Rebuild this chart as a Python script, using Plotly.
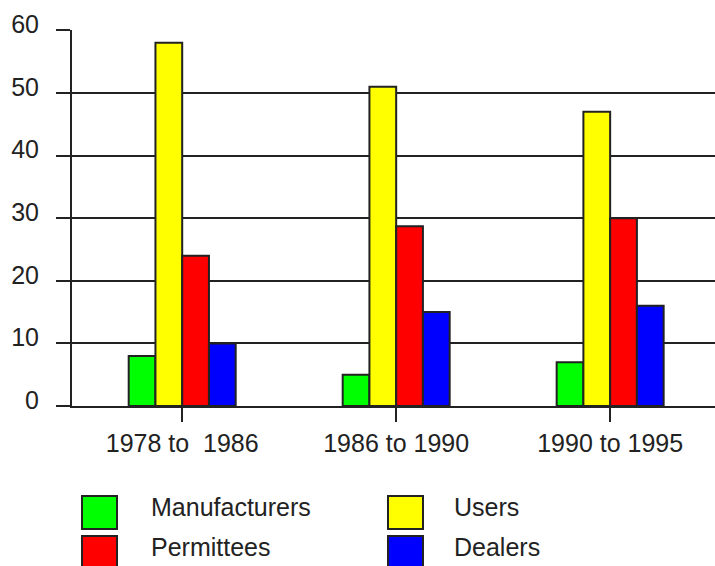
import plotly.graph_objects as go

# Periods on the category axis
periods = ["1978 to  1986", "1986 to 1990", "1990 to 1995"]

# Series names, values per period and fill colours
series_names = ["Manufacturers", "Users", "Permittees", "Dealers"]
manufacturers = [8, 5, 7]
users = [58, 51, 47]
permittees = [24, 28.7, 30]
dealers = [10, 15, 16]
series_colors = ["#00ff00", "#ffff00", "#ff0000", "#0000ff"]

y_ticks = [0, 10, 20, 30, 40, 50, 60]

W, H = 715, 566
M_L, M_R, M_T, M_B = 72, 0, 30, 160
PW, PH = W - M_L - M_R, H - M_T - M_B

FONT = "Liberation Sans, Arial, sans-serif"
INK = "#222222"
FS = 25

fig = go.Figure()
for name, vals, col in zip(series_names, [manufacturers, users, permittees, dealers], series_colors):
    fig.add_trace(go.Bar(
        x=periods, y=vals, name=name,
        marker=dict(color=col, line=dict(color=INK, width=2)),
        showlegend=False,
    ))


def px_x(p):
    return (p - M_L) / PW


def px_y(p):
    return (H - M_B - p) / PH


# Hand-built legend: large swatches in two columns
legend_slots = [
    ("Manufacturers", 0, 0), ("Users", 1, 0),
    ("Permittees", 0, 1), ("Dealers", 1, 1),
]
col_x = [82, 388]
text_x = [149, 452]
row_y = [496, 536]
for (name, c, r) in legend_slots:
    col = series_colors[series_names.index(name)]
    x0, y0 = col_x[c], row_y[r]
    fig.add_shape(type="rect", xref="paper", yref="paper",
                  x0=px_x(x0), x1=px_x(x0 + 35), y0=px_y(y0), y1=px_y(y0 + 33),
                  fillcolor=col, line=dict(color=INK, width=2))
    fig.add_annotation(xref="paper", yref="paper", x=px_x(text_x[c]), y=px_y(y0 + 11),
                       text=name, showarrow=False, xanchor="left", yanchor="middle",
                       font=dict(family=FONT, size=FS, color=INK))

fig.update_layout(
    width=W, height=H,
    margin=dict(l=M_L, r=M_R, t=M_T, b=M_B, pad=0),
    paper_bgcolor="white", plot_bgcolor="white",
    barmode="group", bargap=0.5, bargroupgap=0,
    font=dict(family=FONT, size=FS, color=INK),
    xaxis=dict(
        range=[-0.515, 2.49],
        showgrid=False, zeroline=False,
        showline=True, linecolor=INK, linewidth=2,
        ticks="outside", ticklen=14, tickwidth=2, tickcolor=INK,
        tickfont=dict(family=FONT, size=FS, color=INK),
    ),
    yaxis=dict(
        range=[0, 60.05], tickvals=y_ticks,
        showgrid=True, gridcolor=INK, gridwidth=2,
        zeroline=False,
        showline=True, linecolor=INK, linewidth=2,
        ticks="outside", ticklen=14, tickwidth=2, tickcolor=INK,
        ticklabelstandoff=12, ticklabelshift=-6,
        tickfont=dict(family=FONT, size=FS, color=INK),
    ),
)

fig.write_html("out.html")
